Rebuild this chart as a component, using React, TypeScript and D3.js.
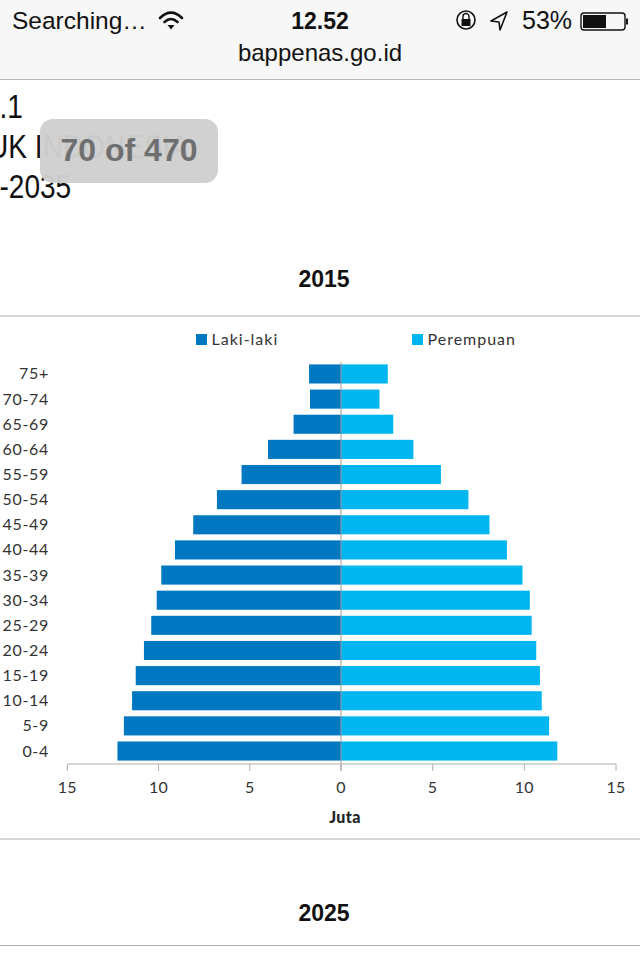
import React from "react";
import * as d3 from "d3";

const ages = ["75+","70-74","65-69","60-64","55-59","50-54","45-49","40-44","35-39","30-34","25-29","20-24","15-19","10-14","5-9","0-4"];
const male = [1.75,1.7,2.6,4.0,5.45,6.8,8.1,9.1,9.85,10.1,10.4,10.8,11.25,11.45,11.9,12.25];
const female = [2.55,2.1,2.85,3.95,5.45,6.95,8.1,9.05,9.9,10.3,10.4,10.65,10.85,10.95,11.35,11.8];
const ticks = [-15,-10,-5,0,5,10,15];
const legendLabels = ["Laki-laki","Perempuan"];
const colors = ["#0078c1","#00b6f0"];

const ui = "Liberation Sans, Arial, sans-serif";
const chartFont = "Lato, 'Open Sans', sans-serif";

export default function App() {
  const x = d3.scaleLinear().domain([-15, 0, 15]).range([67.3, 341, 616]);
  const y = d3.scaleBand<string>().domain(ages).range([361.4, 763.6]).paddingInner(0.24).paddingOuter(0.12);
  const barH = y.bandwidth();
  const line = "#b0b0b0";
  return (
    <svg width={640} height={960} viewBox="0 0 640 960" style={{ position: "absolute", left: 0, top: 0, background: "#fff" }}>
      {/* browser chrome */}
      <rect x={0} y={0} width={640} height={79} fill="#f7f7f7" />
      <line x1={0} x2={640} y1={79.5} y2={79.5} stroke="#b8b8b8" />
      <g fontFamily={ui} fill="#111">
        <text x={12} y={29} fontSize={24.5}>Searching…</text>
        <text x={320} y={29} fontSize={23} fontWeight={700} textAnchor="middle">12.52</text>
        <text x={522} y={29} fontSize={25}>53%</text>
        <text x={320} y={61} fontSize={24} textAnchor="middle">bappenas.go.id</text>
      </g>
      {/* wifi */}
      <g fill="none" stroke="#111" strokeWidth={2.6} strokeLinecap="round">
        <path d="M160 18 Q171 7 182 18" />
        <path d="M164.5 22 Q171 16 177.5 22" />
      </g>
      <path d="M167.5 25 L174.5 25 L171 29.5 Z" fill="#111" />
      {/* rotation lock */}
      <circle cx={466} cy={20} r={9} fill="none" stroke="#111" strokeWidth={1.6} />
      <rect x={461.5} y={19} width={9} height={7} fill="#111" />
      <path d="M463 19 V16.5 A3 3 0 0 1 469 16.5 V19" fill="none" stroke="#111" strokeWidth={1.4} />
      {/* location arrow */}
      <path d="M507 12 L491 21 L499 22 L500 30 Z" fill="none" stroke="#111" strokeWidth={1.6} strokeLinejoin="round" />
      {/* battery */}
      <rect x={581} y={13} width={44} height={17} rx={3} fill="none" stroke="#111" strokeWidth={1.4} />
      <rect x={583} y={15} width={23} height={13} fill="#111" />
      <rect x={626} y={18.5} width={2} height={6} fill="#111" />

      {/* page heading, cut off at the left edge */}
      <g fontFamily={ui} fill="#111" fontSize={33} style={{ transform: "scaleX(0.85)" }}>
        <text x={-19} y={118}>1.1</text>
        <text x={-14} y={158}>UK INDONESIA</text>
        <text x={-19} y={198}>0-2035</text>
      </g>
      <rect x={40} y={119} width={178} height={64} rx={13} fill="#cfcfcf" fillOpacity={0.97} />
      <text x={129} y={161} fontFamily={ui} fontSize={32} fontWeight={700} fill="#6f6f6f" textAnchor="middle">70 of 470</text>

      <text x={324} y={287} fontFamily={ui} fontSize={23} fontWeight={700} fill="#111" textAnchor="middle">2015</text>
      <line x1={0} x2={640} y1={316} y2={316} stroke={line} strokeWidth={1.2} />

      {/* legend */}
      {legendLabels.map((l, i) => {
        const lx = [196, 412][i];
        return (
          <g key={l}>
            <rect x={lx} y={334} width={11} height={11} fill={colors[i]} />
            <text x={lx + 15.5} y={344.5} fontFamily={chartFont} fontSize={16} letterSpacing={1} fill="#333">{l}</text>
          </g>
        );
      })}

      {/* bars */}
      {ages.map((a, i) => (
        <g key={a}>
          <rect x={x(-male[i])} y={y(a)} width={x(0) - x(-male[i])} height={barH} fill={colors[0]} />
          <rect x={x(0)} y={y(a)} width={x(female[i]) - x(0)} height={barH} fill={colors[1]} />
          <text x={49} y={y(a)! + barH / 2 + 5.5} fontFamily={chartFont} fontSize={16} letterSpacing={0.7} fill="#333" textAnchor="end">{a}</text>
        </g>
      ))}

      {/* axes */}
      <line x1={x(0)} x2={x(0)} y1={362} y2={771} stroke="#9a9a9a" strokeWidth={1} />
      <line x1={x(-15)} x2={x(15)} y1={764} y2={764} stroke={line} strokeWidth={1} />
      {ticks.map((t) => (
        <g key={t}>
          <line x1={x(t)} x2={x(t)} y1={764} y2={771} stroke={line} />
          <text x={x(t)} y={792.5} fontFamily={chartFont} fontSize={16} letterSpacing={0.3} fill="#333" textAnchor="middle">{Math.abs(t)}</text>
        </g>
      ))}
      <text x={345} y={822.5} fontFamily={chartFont} fontSize={16} fontWeight={900} letterSpacing={0.4} fill="#222" textAnchor="middle">Juta</text>
      <line x1={0} x2={640} y1={839} y2={839} stroke={line} strokeWidth={1.2} />

      <text x={324} y={921} fontFamily={ui} fontSize={23} fontWeight={700} fill="#111" textAnchor="middle">2025</text>
      <line x1={0} x2={640} y1={945.5} y2={945.5} stroke={line} strokeWidth={1.2} />
    </svg>
  );
}
